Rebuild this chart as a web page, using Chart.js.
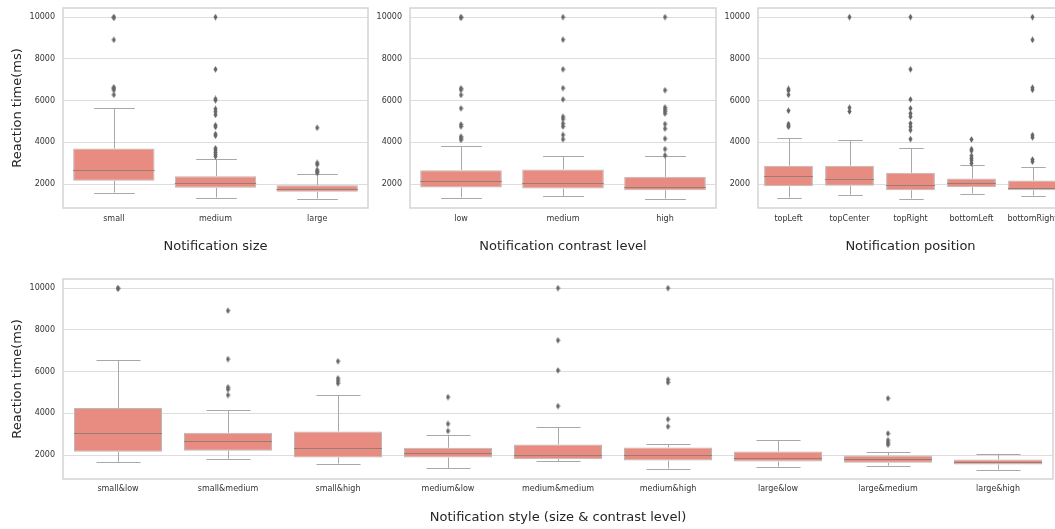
<!DOCTYPE html>
<html>
<head>
<meta charset="utf-8">
<script src="https://cdn.jsdelivr.net/npm/chart.js@4.4.1/dist/chart.umd.min.js"></script>
<style>
  html, body { margin: 0; padding: 0; background: #ffffff; overflow: hidden; width: 1055px; height: 529px; }
  canvas { position: absolute; display: block; }
</style>
</head>
<body>
<canvas id="sizeChart" width="370" height="270" style="left:0px;top:0px"></canvas>
<canvas id="contrastChart" width="348" height="270" style="left:370px;top:0px"></canvas>
<canvas id="positionChart" width="347" height="270" style="left:718px;top:0px"></canvas>
<canvas id="styleChart" width="1055" height="259" style="left:0px;top:270px"></canvas>
<script>
// Shared value axis
const yTicks = [2000, 4000, 6000, 8000, 10000];
const yMin = 860;
const yMax = 10435;

// Notification size
const sizeCats = ['small', 'medium', 'large'];
const sizeQ1  = [2160, 1824, 1632];
const sizeMed = [2672, 2048, 1792];
const sizeQ3  = [3712, 2384, 1952];
const sizeLo  = [1600, 1360, 1312];
const sizeHi  = [5632, 3184, 2464];
const sizeOut = [
  [10000, 9970, 8910, 6640, 6580, 6510, 6280],
  [10000, 7500, 6080, 6020, 5600, 5470, 5320, 4820, 4740, 4400, 4320, 3720, 3620, 3520, 3420, 3330],
  [4700, 3020, 2940, 2680, 2600, 2540]
];

// Notification contrast level
const contrastCats = ['low', 'medium', 'high'];
const contrastQ1  = [1840, 1792, 1712];
const contrastMed = [2160, 2048, 1872];
const contrastQ3  = [2672, 2704, 2352];
const contrastLo  = [1360, 1440, 1312];
const contrastHi  = [3824, 3344, 3344];
const contrastOut = [
  [10000, 9970, 6590, 6520, 6270, 5630, 4860, 4760, 4280, 4200, 4120],
  [10000, 8920, 7500, 6600, 6060, 5230, 5120, 4900, 4760, 4360, 4150],
  [10000, 6500, 5680, 5580, 5480, 5380, 4880, 4660, 4180, 3680, 3380]
];

// Notification position
const positionCats = ['topLeft', 'topCenter', 'topRight', 'bottomLeft', 'bottomRight'];
const positionQ1  = [1904, 1920, 1712, 1856, 1712];
const positionMed = [2384, 2272, 1984, 2080, 1840];
const positionQ3  = [2880, 2880, 2544, 2272, 2176];
const positionLo  = [1360, 1504, 1312, 1552, 1456];
const positionHi  = [4192, 4096, 3712, 2896, 2816];
const positionOut = [
  [6560, 6480, 6280, 5520, 4880, 4800, 4750],
  [10000, 5660, 5480],
  [10000, 7500, 6060, 5630, 5390, 5230, 4910, 4750, 4590, 4160],
  [4140, 3680, 3600, 3360, 3240, 3150, 3000],
  [10000, 8910, 6620, 6520, 4350, 4240, 3180, 3080]
];

// Notification style (size & contrast level)
const styleCats = ['small&low', 'small&medium', 'small&high', 'medium&low', 'medium&medium',
                   'medium&high', 'large&low', 'large&medium', 'large&high'];
const styleQ1  = [2160, 2208, 1888, 1888, 1808, 1744, 1696, 1632, 1552];
const styleMed = [3072, 2656, 2368, 2128, 2030, 2000, 1872, 1808, 1664];
const styleQ3  = [4256, 3072, 3136, 2352, 2512, 2368, 2176, 1984, 1792];
const styleLo  = [1680, 1824, 1600, 1392, 1712, 1360, 1456, 1504, 1312];
const styleHi  = [6544, 4144, 4864, 2976, 3328, 2512, 2704, 2160, 2064];
const styleOut = [
  [10000, 9970],
  [8920, 6600, 5250, 5150, 4880],
  [6500, 5680, 5560, 5440],
  [4780, 3500, 3160],
  [10000, 7500, 6060, 4350],
  [10000, 5620, 5480, 3720, 3370],
  [],
  [4720, 3040, 2720, 2600, 2500],
  []
];

const FONT = "'DejaVu Sans', 'Liberation Sans', sans-serif";
const BOX_FILL = '#e88b80';
const LINE = '#a8a8a8';
const MEDIAN = '#9a7c77';
const GRID = '#dddddd';
const FRAME = '#d3d3d3';

// Thin diamond marker for outliers
function makeDiamond() {
  const c = document.createElement('canvas');
  c.width = 5; c.height = 7;
  const g = c.getContext('2d');
  g.fillStyle = '#666666';
  g.beginPath();
  g.moveTo(2.5, 0.2);
  g.lineTo(4.6, 3.5);
  g.lineTo(2.5, 6.8);
  g.lineTo(0.4, 3.5);
  g.closePath();
  g.fill();
  return c;
}
const diamond = makeDiamond();

// Frame around the plot area
const framePlugin = {
  id: 'frame',
  beforeDatasetsDraw(chart) {
    const { ctx, chartArea: a } = chart;
    ctx.save();
    ctx.strokeStyle = FRAME;
    ctx.lineWidth = 1.5;
    ctx.strokeRect(a.left, a.top, a.right - a.left, a.bottom - a.top);
    ctx.restore();
  }
};

// Whiskers, caps and median lines around the floating bars
function whiskerPlugin(lo, med, hi, q1, q3) {
  return {
    id: 'whiskers',
    beforeDatasetsDraw(chart) {
      const { ctx, scales: { y } } = chart;
      const meta = chart.getDatasetMeta(0);
      ctx.save();
      ctx.strokeStyle = LINE;
      ctx.lineWidth = 1;
      meta.data.forEach((bar, i) => {
        const cx = Math.round(bar.x) + 0.5;
        const hw = bar.width / 4;
        const yl = y.getPixelForValue(lo[i]);
        const yh = y.getPixelForValue(hi[i]);
        const y1 = y.getPixelForValue(q1[i]);
        const y3 = y.getPixelForValue(q3[i]);
        ctx.beginPath();
        ctx.moveTo(cx, y3); ctx.lineTo(cx, yh);
        ctx.moveTo(cx, y1); ctx.lineTo(cx, yl);
        ctx.moveTo(cx - hw, Math.round(yh) + 0.5); ctx.lineTo(cx + hw, Math.round(yh) + 0.5);
        ctx.moveTo(cx - hw, Math.round(yl) + 0.5); ctx.lineTo(cx + hw, Math.round(yl) + 0.5);
        ctx.stroke();
      });
      ctx.restore();
    },
    afterDatasetsDraw(chart) {
      const { ctx, scales: { y } } = chart;
      const meta = chart.getDatasetMeta(0);
      ctx.save();
      ctx.strokeStyle = MEDIAN;
      ctx.lineWidth = 1;
      meta.data.forEach((bar, i) => {
        const ym = Math.round(y.getPixelForValue(med[i])) + 0.5;
        ctx.beginPath();
        ctx.moveTo(bar.x - bar.width / 2, ym);
        ctx.lineTo(bar.x + bar.width / 2, ym);
        ctx.stroke();
      });
      ctx.restore();
    }
  };
}

function boxChart(id, cats, q1, med, q3, lo, hi, out, cfg) {
  const points = [];
  out.forEach((arr, i) => arr.forEach(v => points.push({ x: cats[i], y: v })));
  return new Chart(document.getElementById(id), {
    type: 'bar',
    data: {
      labels: cats,
      datasets: [
        {
          type: 'bar',
          data: cats.map((c, i) => [q1[i], q3[i]]),
          backgroundColor: BOX_FILL,
          borderColor: '#b9b9b9',
          borderWidth: 1,
          borderSkipped: false,
          categoryPercentage: 0.8,
          barPercentage: 1.0,
          order: 2
        },
        {
          type: 'line',
          data: points,
          showLine: false,
          pointStyle: diamond,
          pointRadius: 3,
          order: 1
        }
      ]
    },
    options: {
      responsive: false,
      animation: false,
      events: [],
      layout: { autoPadding: false, padding: { top: cfg.padTop, right: cfg.padRight, left: 0, bottom: 0 } },
      plugins: { legend: { display: false }, tooltip: { enabled: false } },
      scales: {
        x: {
          type: 'category',
          offset: true,
          grid: { display: false, drawTicks: false },
          border: { display: false },
          ticks: { font: { family: FONT, size: 8 }, color: '#333333', padding: cfg.tickPadX, maxRotation: 0, autoSkip: false },
          title: {
            display: true,
            text: cfg.xTitle,
            font: { family: FONT, size: 13 },
            color: '#262626',
            padding: { top: 0, bottom: cfg.xTitlePad }
          },
          afterFit(scale) {
            scale.height = cfg.xHeight;
            scale.paddingLeft = 0; scale.paddingRight = 0;
          }
        },
        y: {
          type: 'linear',
          min: yMin,
          max: yMax,
          afterBuildTicks(scale) { scale.ticks = yTicks.map(v => ({ value: v })); },
          grid: { color: GRID, lineWidth: 1, drawTicks: false },
          border: { display: false },
          ticks: {
            font: { family: FONT, size: 8 }, color: '#333333', padding: 8,
            callback: v => String(v)
          },
          title: {
            display: !!cfg.yTitle,
            text: cfg.yTitle || '',
            font: { family: FONT, size: 13 },
            color: '#262626',
            padding: { top: 10, bottom: 0 }
          },
          afterFit(scale) {
            scale.width = cfg.yWidth;
            scale.paddingTop = 0; scale.paddingBottom = 0;
          }
        }
      }
    },
    plugins: [framePlugin, whiskerPlugin(lo, med, hi, q1, q3)]
  });
}

const topCfg = { padTop: 8, padRight: 2, tickPadX: 6, xHeight: 62, xTitlePad: 16 };

boxChart('sizeChart', sizeCats, sizeQ1, sizeMed, sizeQ3, sizeLo, sizeHi, sizeOut,
  Object.assign({}, topCfg, { xTitle: 'Notification size', yTitle: 'Reaction time(ms)', yWidth: 63 }));

boxChart('contrastChart', contrastCats, contrastQ1, contrastMed, contrastQ3, contrastLo, contrastHi, contrastOut,
  Object.assign({}, topCfg, { xTitle: 'Notification contrast level', yWidth: 40 }));

boxChart('positionChart', positionCats, positionQ1, positionMed, positionQ3, positionLo, positionHi, positionOut,
  Object.assign({}, topCfg, { xTitle: 'Notification position', yWidth: 40 }));

boxChart('styleChart', styleCats, styleQ1, styleMed, styleQ3, styleLo, styleHi, styleOut,
  { padTop: 9, padRight: 2, tickPadX: 5, xHeight: 50, xTitlePad: 4,
    xTitle: 'Notification style (size & contrast level)', yTitle: 'Reaction time(ms)', yWidth: 63 });
</script>
</body>
</html>
